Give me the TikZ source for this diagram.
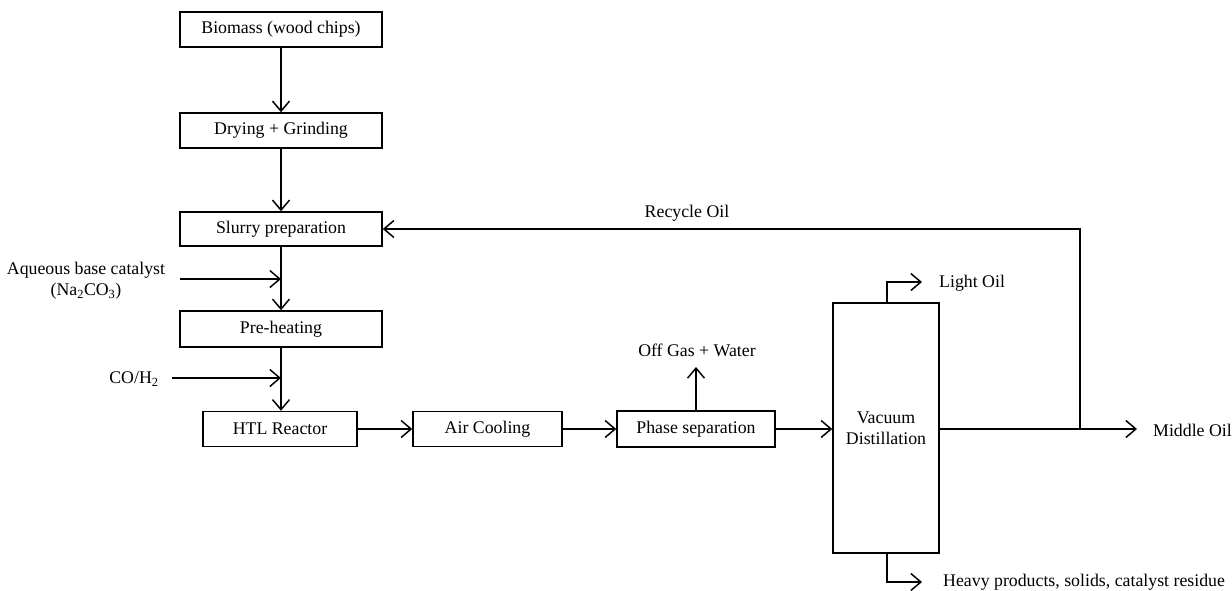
\documentclass[tikz,border=0pt]{standalone}
\usepackage{fontspec}
\setmainfont{Liberation Serif}
\usetikzlibrary{arrows.meta,calc}
\begin{document}
\begin{tikzpicture}[x=1pt,y=-1pt,
  every node/.style={font=\fontsize{17.8}{21}\selectfont},
  proc/.style={draw,line width=1.5pt,rectangle,inner sep=0pt},
  lbl/.style={inner sep=0pt},
  flow/.style={line width=1.5pt,-{Straight Barb[length=10pt,width=17pt]}},
  line/.style={line width=1.5pt}]
\useasboundingbox (0,0) rectangle (1232,590);
% process boxes
\node[proc,minimum width=202pt,minimum height=35pt] (bio) at (281,29.5) {Biomass (wood chips)};
\node[proc,minimum width=202pt,minimum height=35pt] (dry) at (281,130.5) {Drying + Grinding};
\node[proc,minimum width=202pt,minimum height=34pt] (slurry) at (281,229) {Slurry preparation};
\node[proc,minimum width=202pt,minimum height=36pt] (pre) at (281,329) {Pre-heating};
\node[proc,minimum width=154pt,minimum height=35pt] (htl) at (280,429) {HTL Reactor};
\node[proc,minimum width=149pt,minimum height=35pt] (air) at (487.5,429) {Air Cooling};
\node[proc,minimum width=158pt,minimum height=36pt] (phase) at (696,429) {Phase separation};
\node[proc,minimum width=106pt,minimum height=250pt,align=center] (vac) at (886,428) {Vacuum\\Distillation};
% labels
\node[lbl,align=center] (aq) at (86,281) {Aqueous base catalyst\\(Na\textsubscript{2}CO\textsubscript{3})};
\node[lbl] (co) at (134,379) {CO/H\textsubscript{2}};
\node[lbl] (off) at (697,350) {Off Gas + Water};
\node[lbl,anchor=west] (light) at (939,283) {Light Oil};
\node[lbl,anchor=west] (middle) at (1153,430) {Middle Oil};
\node[lbl,anchor=west] (heavy) at (943,582) {Heavy products, solids, catalyst residue};
\node[lbl] (rec) at (687,213) {Recycle Oil};
% coordinates
\coordinate (aqin) at (180,279);
\coordinate (coin) at (172,378);
\coordinate (offout) at (696,367);
\coordinate (lightout) at (922,282);
\coordinate (heavyout) at (922,582);
\coordinate (midout) at (1137,429);
\coordinate (junc) at (1080,429);
% vertical chain
\draw[flow] (bio.south) -- (dry.north);
\draw[flow] (dry.south) -- (slurry.north);
\draw[flow] (slurry.south) -- (pre.north);
\draw[flow] (pre.south) -- (pre.south |- htl.north);
\draw[flow] (aqin) -- (aqin -| slurry.south);
\draw[flow] (coin) -- (coin -| pre.south);
% horizontal chain
\draw[flow] (htl.east) -- (air.west);
\draw[flow] (air.east) -- (phase.west);
\draw[flow] (phase.east) -- (vac.west |- phase.east);
\draw[flow] (phase.north) -- (offout);
% distillation outputs
\draw[flow] (vac.north -| 887,0) -- (887,282) -- (lightout);
\draw[flow] (vac.south -| 887,0) -- (887,582) -- (heavyout);
\draw[flow] (vac.east |- midout) -- (midout);
\draw[flow] (junc) -- (junc |- slurry.east) -- (slurry.east);
\end{tikzpicture}
\end{document}
